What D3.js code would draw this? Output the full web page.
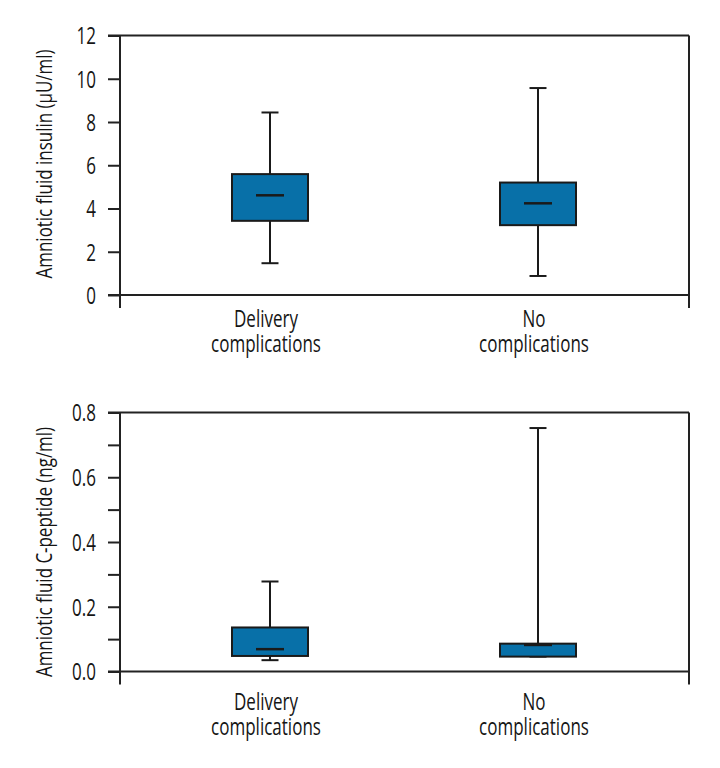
<!DOCTYPE html>
<html><head><meta charset="utf-8">
<script src="https://cdn.jsdelivr.net/npm/d3@7"></script>
<style>
body{margin:0;background:#fff;}
text{font-family:"Open Sans",sans-serif;fill:#151515;font-weight:400;}
</style></head>
<body><svg id="c" width="720" height="768"></svg>
<script>
const categories = ["Delivery complications", "No complications"];
const categoryLines = [["Delivery","complications"],["No","complications"]];
// insulin (μU/ml): [min, q1, median, q3, max]
const insulinStats = [[1.47, 3.43, 4.61, 5.59, 8.44],[0.88, 3.23, 4.24, 5.20, 9.57]];
const insulinTicks = [0,2,4,6,8,10,12];
const insulinTitle = "Amniotic fluid insulin (μU/ml)";
// C-peptide (ng/ml)
const cpeptideStats = [[0.035, 0.048, 0.069, 0.136, 0.278],[0.046, 0.046, 0.082, 0.086, 0.752]];
const cpeptideTicks = [0,0.1,0.2,0.3,0.4,0.5,0.6,0.7,0.8];
const cpeptideLabeled = [0,0.2,0.4,0.6,0.8];
const cpeptideTitle = "Amniotic fluid C-peptide (ng/ml)";

const svg = d3.select("#c");
const left = 120, right = 689;
const x = d3.scalePoint().domain(categories).range([270, 538]);
const boxW = 76, capW = 17, medW = 28;
const fill = "#0870a8";
const K = 0.74; // horizontal condensing of the font
const FS = 23;

function panel(cfg){
  const y = d3.scaleLinear().domain(cfg.domain).range([cfg.bottom, cfg.top]);
  const g = svg.append("g");
  // frame
  const st = s => s.attr("stroke","#222").attr("stroke-width",2);
  st(g.append("line").attr("x1",left-12).attr("x2",right).attr("y1",cfg.top).attr("y2",cfg.top));
  st(g.append("line").attr("x1",right).attr("x2",right).attr("y1",cfg.top).attr("y2",cfg.bottom+13));
  st(g.append("line").attr("x1",left-12).attr("x2",right).attr("y1",cfg.bottom).attr("y2",cfg.bottom));
  st(g.append("line").attr("x1",left).attr("x2",left).attr("y1",cfg.top).attr("y2",cfg.bottom+13));
  // y axis
  const ax = d3.axisLeft(y).tickValues(cfg.ticks).tickSize(12).tickPadding(12)
    .tickFormat(d => cfg.labeled.some(v=>Math.abs(v-d)<1e-9) ? cfg.fmt(d) : "");
  const ag = g.append("g").attr("transform",`translate(${left},0)`).call(ax);
  ag.select(".domain").remove();
  ag.selectAll(".tick line").attr("stroke","#222").attr("stroke-width",2);
  ag.selectAll(".tick text").attr("font-size",FS).attr("font-family",null).attr("fill","#151515")
    .attr("x",-24/K).attr("dy","0.36em").attr("transform",`scale(${K},1)`);
  // title
  g.append("text").attr("transform",`translate(${cfg.titleX},${cfg.titleY}) rotate(-90) scale(${cfg.titleK},1)`)
    .attr("text-anchor","middle").attr("font-size",cfg.titleSize).text(cfg.title);
  // boxes
  categories.forEach((c,i)=>{
    const [mn,q1,md,q3,mx] = cfg.stats[i];
    const cx = x(c);
    const ln = () => g.append("line").attr("stroke","#1a1a1a").attr("stroke-width",2);
    ln().attr("x1",cx).attr("x2",cx).attr("y1",y(mx)).attr("y2",y(mn));
    ln().attr("x1",cx-capW/2).attr("x2",cx+capW/2).attr("y1",y(mx)).attr("y2",y(mx));
    ln().attr("x1",cx-capW/2).attr("x2",cx+capW/2).attr("y1",y(mn)).attr("y2",y(mn));
    g.append("rect").attr("x",cx-boxW/2).attr("width",boxW).attr("y",y(q3)).attr("height",y(q1)-y(q3))
      .attr("fill",fill).attr("stroke","#1a1a1a").attr("stroke-width",2);
    ln().attr("x1",cx-medW/2).attr("x2",cx+medW/2).attr("y1",y(md)).attr("y2",y(md)).attr("stroke-width",2.5);
    const t = g.append("text").attr("text-anchor","middle").attr("font-size",FS)
      .attr("transform",`translate(${cx-4},${cfg.bottom+cfg.labelOff}) scale(${K},1)`);
    categoryLines[i].forEach((s,k)=>{
      t.append("tspan").attr("x",0).attr("y",k*25).text(s);
    });
  });
}

panel({domain:[0,12], top:35.5, bottom:295, ticks:insulinTicks, labeled:insulinTicks, fmt:d3.format("d"),
  stats:insulinStats, title:insulinTitle, titleX:52, titleY:164, titleSize:22, titleK:0.77, labelOff:32});
panel({domain:[0,0.8], top:412.5, bottom:671.5, ticks:cpeptideTicks, labeled:cpeptideLabeled, fmt:d3.format(".1f"),
  stats:cpeptideStats, title:cpeptideTitle, titleX:52, titleY:552, titleSize:22, titleK:0.77, labelOff:38});
</script></body></html>
